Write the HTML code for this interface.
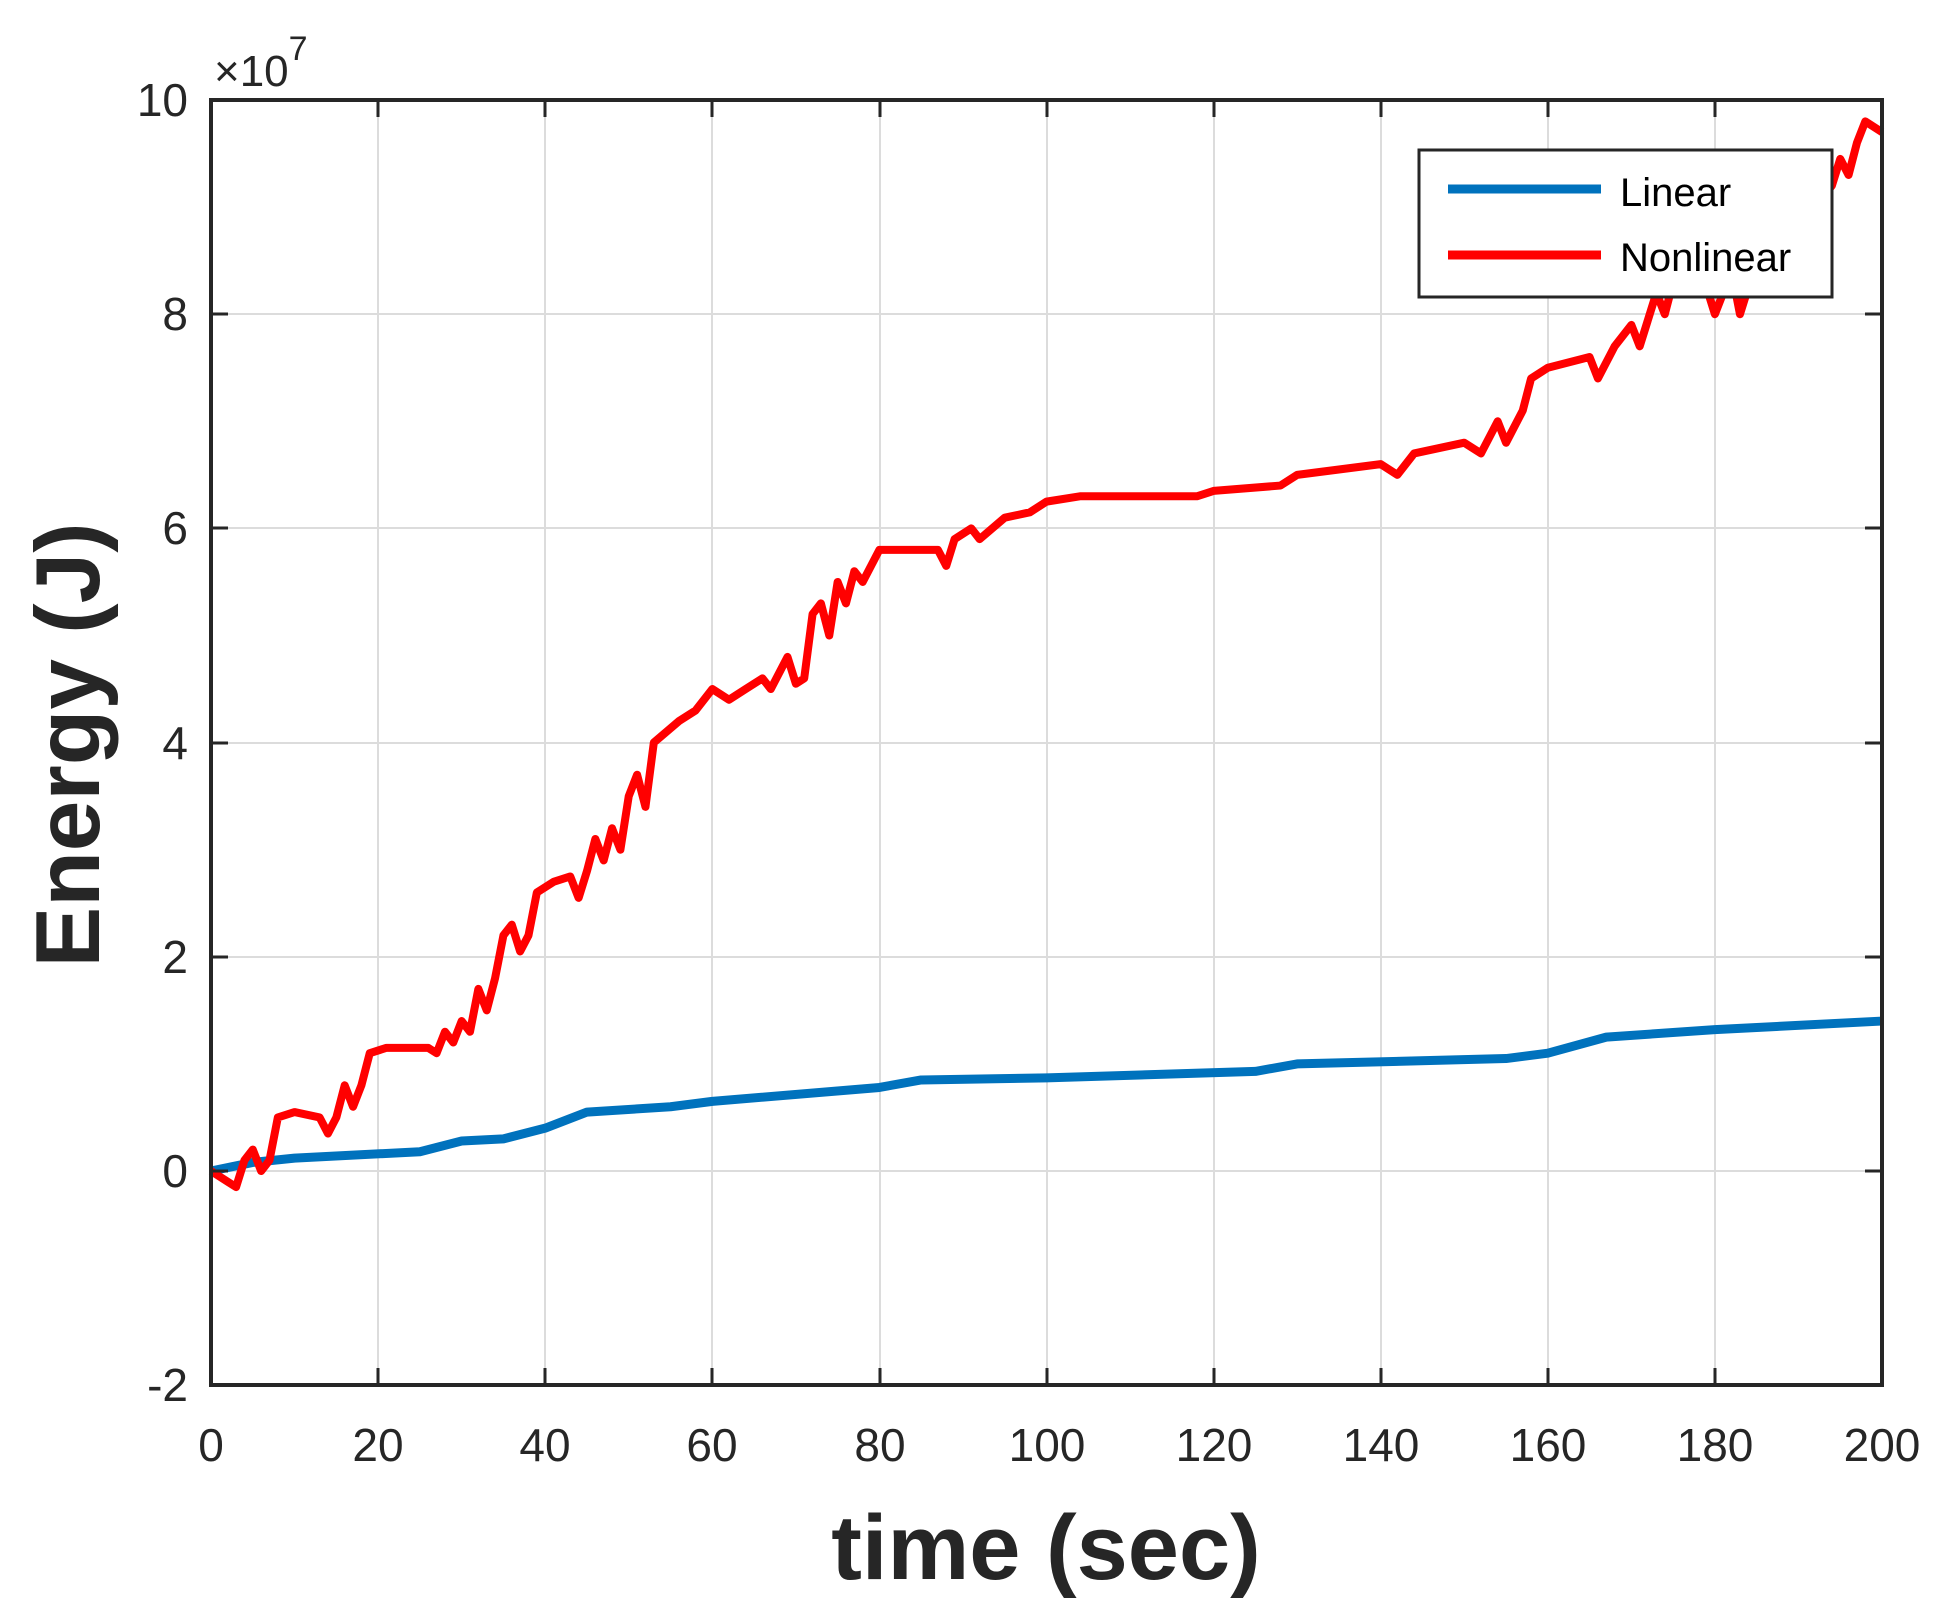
<!DOCTYPE html>
<html><head><meta charset="utf-8"><style>html,body{margin:0;padding:0;background:#fff}svg{display:block}</style></head>
<body>
<svg width="1946" height="1619" viewBox="0 0 1946 1619" xmlns="http://www.w3.org/2000/svg" font-family="Liberation Sans, sans-serif">
<rect width="1946" height="1619" fill="#fff"/>
<g stroke="#dcdcdc" stroke-width="2">
<line x1="378" y1="100" x2="378" y2="1385"/><line x1="545" y1="100" x2="545" y2="1385"/><line x1="712" y1="100" x2="712" y2="1385"/><line x1="880" y1="100" x2="880" y2="1385"/><line x1="1047" y1="100" x2="1047" y2="1385"/><line x1="1214" y1="100" x2="1214" y2="1385"/><line x1="1381" y1="100" x2="1381" y2="1385"/><line x1="1548" y1="100" x2="1548" y2="1385"/><line x1="1715" y1="100" x2="1715" y2="1385"/>
<line x1="211" y1="314" x2="1882" y2="314"/><line x1="211" y1="528" x2="1882" y2="528"/><line x1="211" y1="743" x2="1882" y2="743"/><line x1="211" y1="957" x2="1882" y2="957"/><line x1="211" y1="1171" x2="1882" y2="1171"/>
</g>
<g transform="translate(211,1171) scale(8.355,-107.1)" fill="none" stroke-linejoin="round">
<polyline vector-effect="non-scaling-stroke" stroke="#0072bd" stroke-width="9" points="0,0 5,0.08 10,0.12 25,0.18 30,0.28 35,0.3 40,0.4 45,0.55 55,0.6 60,0.65 80,0.78 85,0.85 100,0.87 125,0.93 130,1.0 155,1.05 160,1.1 167,1.25 180,1.32 200,1.4"/>
<polyline vector-effect="non-scaling-stroke" stroke="#f00" stroke-width="8" points="0,0 2,-0.1 3,-0.15 4,0.1 5,0.2 6,0 7,0.1 8,0.5 10,0.55 13,0.5 14,0.35 15,0.5 16,0.8 17,0.6 18,0.8 19,1.1 21,1.15 26,1.15 27,1.1 28,1.3 29,1.2 30,1.4 31,1.3 32,1.7 33,1.5 34,1.8 35,2.2 36,2.3 37,2.05 38,2.2 39,2.6 41,2.7 43,2.75 44,2.55 45,2.8 46,3.1 47,2.9 48,3.2 49,3.0 50,3.5 51,3.7 52,3.4 53,4.0 56,4.2 58,4.3 60,4.5 62,4.4 64,4.5 66,4.6 67,4.5 69,4.8 70,4.55 71,4.6 72,5.2 73,5.3 74,5.0 75,5.5 76,5.3 77,5.6 78,5.5 80,5.8 87,5.8 88,5.65 89,5.9 91,6.0 92,5.9 95,6.1 98,6.15 100,6.25 104,6.3 118,6.3 120,6.35 128,6.4 130,6.5 140,6.6 142,6.5 144,6.7 150,6.8 152,6.7 154,7.0 155,6.8 157,7.1 158,7.4 160,7.5 165,7.6 166,7.4 168,7.7 170,7.9 171,7.7 173,8.2 174,8.0 175,8.3 178,8.5 180,8.0 182,8.4 183,8.0 185,8.5 188,9.0 190,8.8 192,9.4 193,9.1 194,9.2 195,9.45 196,9.3 197,9.6 198,9.8 200,9.7"/>
</g>
<rect x="211" y="100" width="1671" height="1285" fill="none" stroke="#262626" stroke-width="4"/>
<g stroke="#262626" stroke-width="3">
<line x1="378" y1="1385" x2="378" y2="1368"/><line x1="545" y1="1385" x2="545" y2="1368"/><line x1="712" y1="1385" x2="712" y2="1368"/><line x1="880" y1="1385" x2="880" y2="1368"/><line x1="1047" y1="1385" x2="1047" y2="1368"/><line x1="1214" y1="1385" x2="1214" y2="1368"/><line x1="1381" y1="1385" x2="1381" y2="1368"/><line x1="1548" y1="1385" x2="1548" y2="1368"/><line x1="1715" y1="1385" x2="1715" y2="1368"/>
<line x1="378" y1="100" x2="378" y2="117"/><line x1="545" y1="100" x2="545" y2="117"/><line x1="712" y1="100" x2="712" y2="117"/><line x1="880" y1="100" x2="880" y2="117"/><line x1="1047" y1="100" x2="1047" y2="117"/><line x1="1214" y1="100" x2="1214" y2="117"/><line x1="1381" y1="100" x2="1381" y2="117"/><line x1="1548" y1="100" x2="1548" y2="117"/><line x1="1715" y1="100" x2="1715" y2="117"/>
<line x1="211" y1="314" x2="228" y2="314"/><line x1="211" y1="528" x2="228" y2="528"/><line x1="211" y1="743" x2="228" y2="743"/><line x1="211" y1="957" x2="228" y2="957"/><line x1="211" y1="1171" x2="228" y2="1171"/>
<line x1="1882" y1="314" x2="1865" y2="314"/><line x1="1882" y1="528" x2="1865" y2="528"/><line x1="1882" y1="743" x2="1865" y2="743"/><line x1="1882" y1="957" x2="1865" y2="957"/><line x1="1882" y1="1171" x2="1865" y2="1171"/>
</g>
<g font-size="46" fill="#262626" text-anchor="end">
<text x="188" y="116">10</text><text x="188" y="330">8</text><text x="188" y="544">6</text><text x="188" y="759">4</text><text x="188" y="973">2</text><text x="188" y="1187">0</text><text x="188" y="1401">-2</text>
</g>
<g font-size="46" fill="#262626" text-anchor="middle">
<text x="211" y="1461">0</text><text x="378" y="1461">20</text><text x="545" y="1461">40</text><text x="712" y="1461">60</text><text x="880" y="1461">80</text><text x="1047" y="1461">100</text><text x="1214" y="1461">120</text><text x="1381" y="1461">140</text><text x="1548" y="1461">160</text><text x="1715" y="1461">180</text><text x="1882" y="1461">200</text>
</g>
<text x="214" y="86" font-size="44" fill="#262626">×10<tspan font-size="34" dy="-26">7</tspan></text>
<text x="1046" y="1579" font-size="92" font-weight="bold" fill="#262626" text-anchor="middle">time (sec)</text>
<text transform="translate(99,745) rotate(-90)" font-size="91" font-weight="bold" fill="#262626" text-anchor="middle">Energy (J)</text>
<rect x="1419" y="150" width="413" height="147" fill="#fff" stroke="#262626" stroke-width="3"/>
<line x1="1448" y1="189" x2="1601" y2="189" stroke="#0072bd" stroke-width="9"/>
<line x1="1448" y1="255" x2="1601" y2="255" stroke="#f00" stroke-width="9"/>
<text x="1620" y="206" font-size="40" fill="#000">Linear</text>
<text x="1620" y="271" font-size="40" fill="#000">Nonlinear</text>
</svg>
</body></html>
